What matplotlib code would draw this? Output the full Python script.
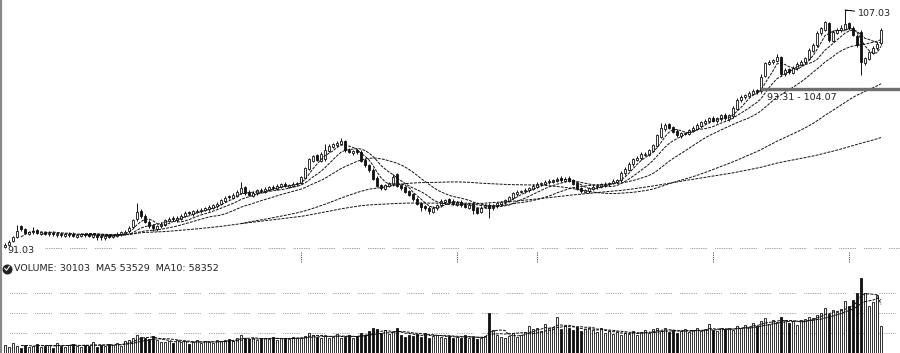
import matplotlib
matplotlib.use("Agg")
import matplotlib.pyplot as plt
from matplotlib.lines import Line2D
from matplotlib import transforms
import numpy as np
import pandas as pd

opens = [
    91.1, 91.25, 91.5, 91.8, 92.5, 92.3, 92.0, 92.1, 92.25, 92.0,
    92.1, 91.95, 92.05, 91.9, 92.0, 91.85, 91.9, 92.0, 91.8, 91.85,
    91.95, 91.95, 91.8, 91.9, 91.85, 91.7, 91.9, 91.8, 91.85, 91.95,
    92.0, 92.15, 92.45, 92.95, 93.5, 93.15, 92.8, 92.55, 92.3, 92.5,
    92.6, 92.85, 93.05, 92.9, 93.0, 93.2, 93.45, 93.3, 93.45, 93.5,
    93.6, 93.65, 93.75, 93.85, 94.0, 94.2, 94.5, 94.4, 94.55, 94.75,
    95.1, 94.8, 94.55, 94.7, 94.95, 94.8, 94.95, 95.15, 95.0, 95.15,
    95.35, 95.15, 95.2, 95.3, 95.4, 95.75, 96.35, 96.9, 97.25, 96.9,
    97.0, 97.55, 97.85, 97.95, 98.05, 98.25, 97.65, 97.4, 97.6, 97.5,
    96.95, 96.6, 96.3, 95.75, 95.25, 95.0, 95.2, 95.3, 96.0, 95.25,
    95.1, 94.85, 94.65, 94.35, 94.05, 93.85, 93.75, 93.45, 93.7, 93.9,
    94.1, 94.3, 94.2, 93.95, 94.15, 93.95, 93.75, 94.0, 93.7, 93.45,
    93.8, 93.95, 93.7, 93.85, 94.0, 94.1, 94.2, 94.4, 94.65, 94.8,
    94.85, 94.9, 95.0, 95.15, 95.3, 95.35, 95.45, 95.5, 95.55, 95.75,
    95.55, 95.75, 95.6, 95.4, 95.05, 94.8, 94.85, 95.0, 95.1, 95.15,
    95.25, 95.3, 95.4, 95.5, 95.6, 96.05, 96.3, 96.65, 96.95, 97.05,
    97.3, 97.3, 97.55, 97.9, 98.5, 99.0, 99.35, 99.15, 98.9, 98.55,
    98.7, 98.7, 98.9, 99.05, 99.25, 99.45, 99.55, 99.8, 99.55, 99.7,
    100.0, 99.7, 99.9, 100.4, 100.95, 101.15, 101.25, 101.4, 101.65, 101.55,
    102.6, 103.4, 103.5, 103.6, 103.85, 102.7, 103.05, 102.8, 103.1, 103.35,
    103.5, 103.75, 104.3, 104.65, 105.45, 105.7, 106.15, 104.95, 105.5, 105.65,
    105.75, 106.15, 105.85, 105.3, 105.55, 103.45, 103.75, 104.15, 104.45, 104.8,
]
highs = [
    91.35, 91.55, 91.85, 92.6, 92.55, 92.4, 92.2, 92.45, 92.3, 92.2,
    92.2, 92.15, 92.15, 92.1, 92.1, 92.05, 92.1, 92.1, 92.0, 92.05,
    92.05, 92.05, 92.05, 92.0, 91.95, 91.95, 92.0, 92.0, 92.1, 92.2,
    92.25, 92.5, 93.0, 94.05, 93.65, 93.3, 92.9, 92.65, 92.6, 92.75,
    93.0, 93.1, 93.15, 93.15, 93.3, 93.5, 93.55, 93.6, 93.65, 93.7,
    93.8, 93.9, 94.0, 94.1, 94.35, 94.5, 94.6, 94.7, 94.9, 95.45,
    95.2, 94.9, 94.85, 95.0, 95.05, 95.1, 95.2, 95.25, 95.3, 95.4,
    95.45, 95.35, 95.45, 95.5, 95.9, 96.5, 97.1, 97.3, 97.35, 97.45,
    98.0, 98.0, 98.1, 98.2, 98.4, 98.3, 97.75, 97.65, 97.7, 97.6,
    97.05, 96.7, 96.4, 95.85, 95.35, 95.35, 95.5, 96.0, 96.1, 95.35,
    95.2, 94.95, 94.75, 94.45, 94.15, 93.95, 93.85, 93.85, 94.0, 94.3,
    94.35, 94.4, 94.3, 94.2, 94.25, 94.05, 94.05, 94.1, 93.8, 93.85,
    94.0, 94.05, 94.0, 94.15, 94.2, 94.35, 94.55, 94.8, 94.9, 94.95,
    95.05, 95.15, 95.3, 95.45, 95.5, 95.6, 95.65, 95.7, 95.8, 95.85,
    95.8, 95.85, 95.7, 95.5, 95.15, 95.0, 95.15, 95.25, 95.3, 95.4,
    95.45, 95.5, 95.65, 95.7, 96.2, 96.45, 96.8, 97.1, 97.2, 97.45,
    97.45, 97.7, 98.05, 98.7, 99.4, 99.4, 99.45, 99.25, 99.0, 98.85,
    98.85, 99.05, 99.2, 99.4, 99.6, 99.7, 99.85, 99.9, 99.85, 100.05,
    100.1, 100.05, 100.55, 101.1, 101.3, 101.4, 101.55, 101.7, 101.75, 102.7,
    103.55, 103.65, 103.75, 104.1, 103.95, 103.1, 103.15, 103.25, 103.5, 103.65,
    103.9, 104.45, 104.8, 105.6, 105.9, 106.3, 106.25, 105.65, 105.8, 106.0,
    107.03, 106.25, 105.95, 105.4, 105.65, 103.9, 104.3, 104.6, 104.85, 105.8,
]
lows = [
    91.03, 91.15, 91.4, 91.7, 92.2, 91.95, 91.9, 92.0, 91.95, 91.9,
    91.9, 91.85, 91.85, 91.8, 91.8, 91.75, 91.8, 91.75, 91.7, 91.75,
    91.8, 91.75, 91.7, 91.55, 91.6, 91.6, 91.7, 91.7, 91.75, 91.85,
    91.9, 92.05, 92.35, 92.85, 93.05, 92.7, 92.4, 92.2, 92.2, 92.4,
    92.5, 92.75, 92.85, 92.8, 92.9, 93.1, 93.25, 93.2, 93.35, 93.4,
    93.5, 93.55, 93.65, 93.75, 93.9, 94.1, 94.35, 94.3, 94.45, 94.65,
    94.6, 94.5, 94.45, 94.6, 94.75, 94.7, 94.85, 94.95, 94.9, 95.05,
    95.1, 95.05, 95.1, 95.2, 95.3, 95.65, 96.25, 96.8, 96.85, 96.8,
    96.9, 97.45, 97.75, 97.85, 97.95, 97.5, 97.4, 97.3, 97.35, 96.8,
    96.5, 96.15, 95.6, 95.1, 94.95, 94.9, 95.1, 95.2, 95.1, 94.95,
    94.7, 94.5, 94.2, 93.9, 93.5, 93.6, 93.3, 93.35, 93.6, 93.8,
    94.0, 94.05, 93.9, 93.85, 93.8, 93.7, 93.65, 93.3, 93.3, 93.35,
    93.7, 93.05, 93.6, 93.75, 93.9, 94.0, 94.1, 94.3, 94.55, 94.7,
    94.75, 94.8, 94.9, 95.05, 95.2, 95.25, 95.35, 95.4, 95.45, 95.5,
    95.45, 95.45, 95.25, 94.9, 94.75, 94.7, 94.75, 94.9, 95.0, 95.05,
    95.15, 95.2, 95.3, 95.4, 95.5, 95.95, 96.2, 96.55, 96.85, 96.95,
    97.2, 97.2, 97.45, 97.8, 98.4, 98.9, 99.0, 98.75, 98.5, 98.45,
    98.6, 98.6, 98.8, 98.95, 99.15, 99.35, 99.45, 99.5, 99.45, 99.6,
    99.65, 99.6, 99.8, 100.3, 100.85, 101.05, 101.15, 101.3, 101.4, 101.45,
    102.5, 103.3, 103.4, 103.5, 102.6, 102.6, 102.75, 102.7, 103.0, 103.25,
    103.4, 103.65, 104.2, 104.55, 105.35, 105.6, 104.9, 104.85, 105.4, 105.55,
    105.65, 105.7, 105.25, 104.55, 102.66, 103.35, 103.65, 104.05, 104.35, 104.7,
]
closes = [
    91.23, 91.45, 91.75, 92.15, 92.3, 92.05, 92.1, 92.2, 92.05, 92.1,
    92.0, 92.05, 91.95, 92.0, 91.9, 91.95, 92.0, 91.85, 91.9, 91.95,
    91.9, 91.85, 91.95, 91.8, 91.75, 91.85, 91.8, 91.9, 92.0, 92.1,
    92.1, 92.4, 92.9, 93.45, 93.2, 92.8, 92.5, 92.35, 92.5, 92.65,
    92.9, 93.0, 92.95, 93.05, 93.2, 93.4, 93.35, 93.5, 93.55, 93.6,
    93.7, 93.8, 93.9, 94.0, 94.25, 94.4, 94.45, 94.6, 94.8, 95.05,
    94.7, 94.6, 94.75, 94.9, 94.85, 95.0, 95.1, 95.05, 95.2, 95.3,
    95.2, 95.25, 95.35, 95.4, 95.8, 96.4, 97.0, 97.2, 96.95, 97.35,
    97.6, 97.9, 98.0, 98.1, 98.2, 97.6, 97.5, 97.55, 97.45, 96.9,
    96.6, 96.25, 95.7, 95.2, 95.05, 95.25, 95.4, 95.8, 95.2, 95.05,
    94.8, 94.6, 94.3, 94.0, 93.8, 93.7, 93.5, 93.75, 93.9, 94.2,
    94.25, 94.15, 94.0, 94.1, 93.9, 93.8, 93.95, 93.6, 93.4, 93.75,
    93.9, 93.75, 93.9, 94.05, 94.1, 94.25, 94.45, 94.7, 94.8, 94.85,
    94.95, 95.05, 95.2, 95.35, 95.4, 95.5, 95.55, 95.6, 95.7, 95.6,
    95.7, 95.55, 95.35, 95.0, 94.85, 94.9, 95.05, 95.15, 95.2, 95.3,
    95.35, 95.4, 95.55, 95.6, 96.1, 96.35, 96.7, 97.0, 97.1, 97.35,
    97.35, 97.6, 97.95, 98.6, 99.1, 99.3, 99.1, 98.85, 98.6, 98.75,
    98.75, 98.95, 99.1, 99.3, 99.5, 99.6, 99.75, 99.6, 99.75, 99.95,
    99.75, 99.95, 100.45, 101.0, 101.2, 101.3, 101.45, 101.6, 101.5, 102.5,
    103.45, 103.55, 103.65, 103.9, 102.7, 103.0, 102.85, 103.15, 103.4, 103.55,
    103.8, 104.35, 104.7, 105.5, 105.8, 106.2, 105.0, 105.55, 105.7, 105.8,
    106.1, 105.8, 105.35, 104.65, 103.5, 103.8, 104.2, 104.5, 104.75, 105.7,
]
volumes = [
    9000, 7000, 11000, 8000, 6000, 9000, 7000, 8000, 10000, 7000,
    8000, 9000, 6000, 11000, 8000, 7000, 9000, 10000, 8000, 7000,
    9000, 8000, 12000, 7000, 9000, 8000, 10000, 9000, 11000, 8000,
    13000, 14000, 16000, 20000, 18000, 17000, 15000, 19000, 14000, 12000,
    12000, 13000, 11000, 14000, 12000, 13000, 10000, 12000, 14000, 11000,
    13000, 12000, 11000, 14000, 13000,
    14000, 15000, 13000, 16000, 20000, 17000, 15000, 16000, 14000, 17000,
    16000, 15000, 18000, 14000, 16000, 17000, 15000, 18000, 16000, 17000,
    19000, 22000, 20000, 18000, 17000,
    19000, 17000, 18000, 21000, 16000, 18000, 20000, 17000, 19000, 22000,
    20000, 24000, 27000, 26000, 22000, 25000, 21000, 23000, 27000, 20000,
    18000, 20000, 19000, 21000, 18000, 22000, 17000, 19000, 20000, 18000,
    17000, 19000, 16000, 18000, 17000, 20000, 16000, 18000, 15000, 17000,
    19000, 44000, 25000, 20000, 18000, 17000, 19000, 22000, 18000, 20000,
    23000, 30000, 26000, 28000, 24000, 32000, 27000, 29000, 40000, 26000,
    30000, 27000, 25000, 29000, 24000, 26000, 28000, 25000, 23000, 27000,
    22000, 24000, 21000, 23000, 20000,
    22000, 21000, 24000, 20000, 23000, 25000, 22000, 26000, 28000, 24000,
    27000, 23000, 25000, 22000, 24000, 26000, 23000, 25000, 27000, 24000,
    26000, 32000, 25000, 24000, 27000,
    26000, 28000, 25000, 30000, 27000, 31000, 29000, 33000, 30000, 35000,
    38000, 32000, 36000, 34000, 40000, 36000, 33000, 35000, 31000, 36000,
    37000, 40000, 38000, 42000, 44000, 49000, 43000, 47000, 45000, 48000,
    57000, 52000, 58000, 66000, 82900, 66000, 52000, 56000, 63500, 30103,
]
month_ticks = [74, 113, 133, 177, 211]
low_label = "91.03"
high_label = "107.03"
range_label = "93.31 - 104.07"
range_level = 101.71
vol_text = "VOLUME: 30103  MA5 53529  MA10: 58352"
vol_grid = [22000, 44000, 66000]

assert len(opens) == len(highs) == len(lows) == len(closes) == len(volumes)

W, H = 900, 353
fig = plt.figure(figsize=(W / 100, H / 100), dpi=100)
fig.patch.set_facecolor("white")


def px_axes(x0, y0, x1, y1):
    return fig.add_axes([x0 / W, 1 - y1 / H, (x1 - x0) / W, (y1 - y0) / H])


axp = px_axes(0, 0, 900, 258)
axv = px_axes(0, 275, 900, 353)

n = len(closes)
idx = np.arange(n)
o = np.array(opens)
c = np.array(closes)
hi = np.array(highs)
lo = np.array(lows)
v = np.array(volumes)
down = c < o

for ax in (axp, axv):
    ax.set_xlim(-1.25, 223.75)
    ax.axis("off")
axp.set_ylim(90.358, 107.70)
axv.set_ylim(0, 85800)

ink = "#111111"

# candles
axp.vlines(idx, lo, hi, color=ink, lw=0.7, zorder=2)
body_bottom = np.minimum(o, c)
body_h = np.maximum(np.abs(c - o), 0.03)
face = np.where(down, ink, "white")
axp.bar(idx, body_h, bottom=body_bottom, width=0.72, color=face,
        edgecolor=ink, linewidth=0.6, zorder=3)

# moving averages
s = pd.Series(c)
ma_specs = [(5, 5), (10, 10), (20, 20), (60, 20), (120, 60)]
for win, minp in ma_specs:
    axp.plot(idx, s.rolling(win, min_periods=minp).mean(), color=ink,
             lw=0.7, dashes=(3, 1.2), zorder=4)

# low gridline
axp.axhline(lows[0], xmin=45 / 900, xmax=1, color="#777777", lw=0.7,
            dashes=[0.72, 1.08] * 9 + [0.72, 8.6], zorder=1)

# range line
axp.axhline(range_level, xmin=762 / 900, xmax=1, color="#6f6f6f", lw=2.4, zorder=5)
i_rng = 189
axp.annotate(range_label, xy=(i_rng, range_level), xytext=(4, -6),
             textcoords="offset points", fontsize=6.8, color="#222222",
             va="center", ha="left", zorder=6)

# high label
i_hi = int(np.argmax(hi))
axp.annotate(high_label, xy=(i_hi, hi[i_hi]), xytext=(9, -2.5),
             textcoords="offset points", fontsize=6.8, color="#222222",
             va="center", ha="left",
             arrowprops=dict(arrowstyle="-", color=ink, lw=0.7,
                             shrinkA=0, shrinkB=0))
axp.plot([i_hi, i_hi + 1.6], [hi[i_hi], hi[i_hi]], color=ink, lw=0.7)

# low label
i_lo = int(np.argmin(lo))
axp.annotate(low_label, xy=(i_lo, lo[i_lo]), xytext=(2, -1.5),
             textcoords="offset points", fontsize=6.8, color="#222222",
             va="center", ha="left")

# month ticks
trans = transforms.blended_transform_factory(axp.transData, fig.transFigure)
for t in month_ticks:
    fig.add_artist(Line2D([t, t], [1 - 262 / H, 1 - 252 / H], transform=trans,
                          color="#555555", lw=0.8, dashes=(1, 1)))

# volume bars
vface = np.where(down, ink, "white")
axv.bar(idx, v, width=0.62, color=vface, edgecolor=ink, linewidth=0.6, zorder=3)
vs = pd.Series(v)
for win in (5, 10):
    axv.plot(idx, vs.rolling(win).mean(), color=ink, lw=0.7, dashes=(3, 1.2), zorder=4)
for g in vol_grid:
    axv.axhline(g, xmin=10 / 900, xmax=1, color="#888888", lw=0.7,
                dashes=[0.72, 1.08] * 9 + [0.72, 8.6], zorder=1)

# volume title: round icon with a check mark, then the text
cy = 1 - 268.5 / H
fig.add_artist(Line2D([7 / W], [cy], transform=fig.transFigure, marker="o",
                      markersize=6.2, color="#222222", linestyle="none"))
fig.add_artist(Line2D([4.8 / W, 6.5 / W, 9.4 / W],
                      [cy + 0.2 / H, cy - 1.8 / H, cy + 2.2 / H],
                      transform=fig.transFigure, color="white", lw=0.8))
fig.text(14 / W, cy, vol_text, fontsize=6.8, color="#222222",
         ha="left", va="center")

# left border
fig.add_artist(Line2D([1 / W, 1 / W], [0, 1], transform=fig.transFigure,
                      color="#8a8a8a", lw=1.6))

fig.savefig("out.png", dpi=100, facecolor="white")
